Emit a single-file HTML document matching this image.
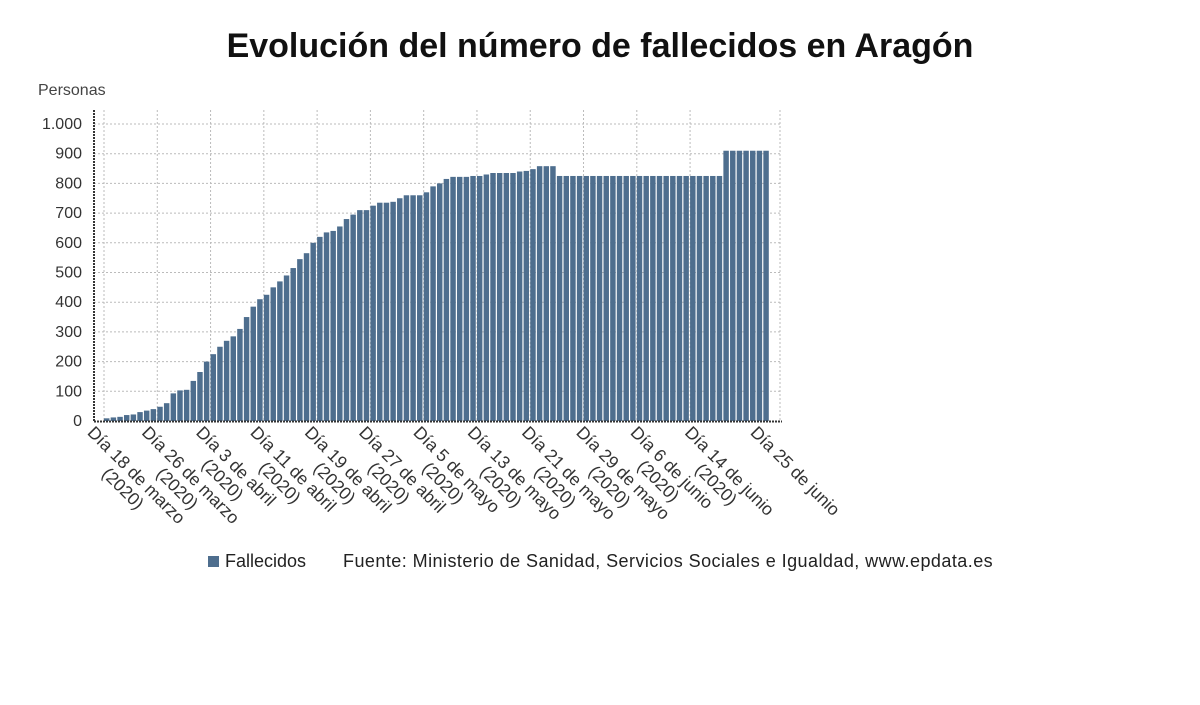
<!DOCTYPE html>
<html><head><meta charset="utf-8"><style>body{margin:0;background:#fff}svg{display:block}</style></head>
<body>
<svg id="s" width="1200" height="705" xmlns="http://www.w3.org/2000/svg" font-family="'Liberation Sans', 'DejaVu Sans', sans-serif">
<defs><clipPath id="c"><rect x="0" y="0" width="840" height="705"/></clipPath></defs>
<text x="600" y="57" text-anchor="middle" font-size="34" font-weight="bold" fill="#111">Evolución del número de fallecidos en Aragón</text>
<text x="38" y="95" font-size="16" fill="#444">Personas</text>
<g id="grid"></g>
<g id="bars"></g>
<g id="labels" clip-path="url(#c)"></g>
<line x1="94" y1="110" x2="94" y2="422" stroke="#333" stroke-width="2" stroke-dasharray="2,1"/>
<line x1="94" y1="421.5" x2="782" y2="421.5" stroke="#333" stroke-width="2" stroke-dasharray="2,1"/>
<rect x="208" y="556" width="11" height="11" fill="#4e6e8e"/>
<text x="225" y="567" font-size="18" fill="#222">Fallecidos</text>
<text x="343" y="567" font-size="18" letter-spacing="0.45" fill="#222">Fuente: Ministerio de Sanidad, Servicios Sociales e Igualdad, www.epdata.es</text>
</svg>
<script>
var NS="http://www.w3.org/2000/svg";
function el(p,t,a,txt){var e=document.createElementNS(NS,t);for(var k in a)e.setAttribute(k,a[k]);if(txt!=null)e.textContent=txt;document.getElementById(p).appendChild(e);return e;}
var y0=421,k=0.297;
for(var v=0;v<=1000;v+=100){var y=y0-v*k;
 if(v>0)el("grid","line",{x1:94,x2:782,y1:y,y2:y,stroke:"#bbb","stroke-dasharray":"2,2"});
 el("grid","text",{x:82,y:y+5,"text-anchor":"end","font-size":16,fill:"#333"},v==1000?"1.000":String(v));}
var vals=[9,12,14,20,22,30,35,40,48,60,93,103,105,135,165,200,225,250,270,285,310,350,385,410,425,450,470,490,515,545,565,600,620,635,640,655,680,695,710,710,725,735,735,738,750,760,760,760,770,
790,800,815,822,822,822,825,825,830,835,835,835,835,840,842,848,858,858,858];
while(vals.length<93)vals.push(825);while(vals.length<100)vals.push(910);
var x0=104,w=6.66;
var labs=["Día 18 de marzo","Día 26 de marzo","Día 3 de abril","Día 11 de abril","Día 19 de abril","Día 27 de abril","Día 5 de mayo","Día 13 de mayo","Día 21 de mayo","Día 29 de mayo","Día 6 de junio","Día 14 de junio"];
for(var i=0;i<12;i++){var x=x0+w*8*i;el("grid","line",{x1:x,x2:x,y1:110,y2:421,stroke:"#bbb","stroke-dasharray":"2,2"});}
el("grid","line",{x1:780,x2:780,y1:110,y2:421,stroke:"#bbb","stroke-dasharray":"2,2"});
for(var i=0;i<100;i++){el("bars","rect",{x:x0+i*w,y:y0-vals[i]*k,width:w-1.2,height:vals[i]*k,fill:"#4e6e8e"});}
function lab(x,s,two){
 var g=el("labels","g",{transform:"translate("+x+",425) rotate(45)"});
 var t=document.createElementNS(NS,"text");t.setAttribute("x",0);t.setAttribute("y",12);t.setAttribute("font-size",17.5);t.setAttribute("fill","#333");t.textContent=s;g.appendChild(t);
 if(two){var L=t.getComputedTextLength();var t2=document.createElementNS(NS,"text");t2.setAttribute("x",L/2);t2.setAttribute("y",31);t2.setAttribute("text-anchor","middle");t2.setAttribute("font-size",17.5);t2.setAttribute("fill","#333");t2.textContent="(2020)";g.appendChild(t2);}
}
for(var i=0;i<12;i++)lab(95+54.3*i,labs[i],true);
lab(758,"Día 25 de junio",false);
</script>
</body></html>
